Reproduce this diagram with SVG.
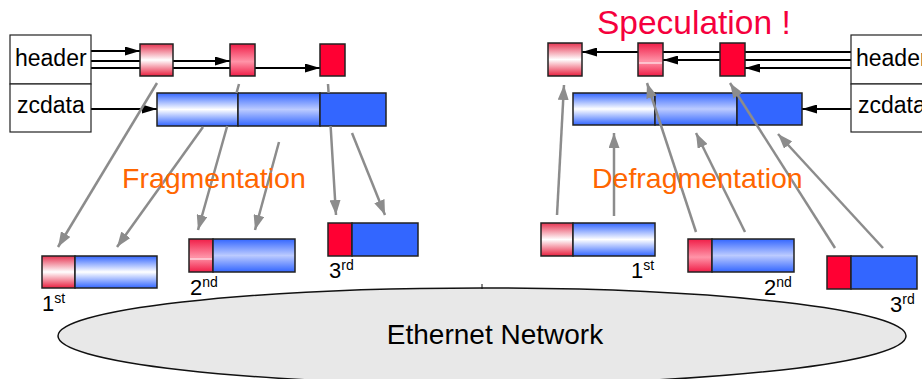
<svg xmlns="http://www.w3.org/2000/svg" width="922" height="379" viewBox="0 0 922 379">
<style>
.lbl{font-family:"Liberation Sans",Arial,sans-serif;fill:#000}
.box{stroke:#222;stroke-width:1.5}
.blk{stroke:#000;stroke-width:2;fill:none}
.gry{stroke:#8C8C8C;stroke-width:2.5;fill:none;marker-end:url(#ga)}
.title{font-family:"Liberation Sans",Arial,sans-serif;fill:#FF6600;font-size:28.5px}
.frm{fill:#fff;stroke:#222;stroke-width:1.2}
</style>
<defs>
<linearGradient id="pk1" x1="0" y1="0" x2="0" y2="1"><stop offset="0" stop-color="#E63552"/><stop offset="0.5" stop-color="#FFFFFF"/><stop offset="1" stop-color="#E8203F"/></linearGradient>
<linearGradient id="pk2" x1="0" y1="0" x2="0" y2="1"><stop offset="0" stop-color="#F01E48"/><stop offset="0.55" stop-color="#FF94A8"/><stop offset="1" stop-color="#F01E48"/></linearGradient>
<linearGradient id="bl1" x1="0" y1="0" x2="0" y2="1"><stop offset="0" stop-color="#3366FF"/><stop offset="0.5" stop-color="#FFFFFF"/><stop offset="1" stop-color="#3366FF"/></linearGradient>
<linearGradient id="bl2" x1="0" y1="0" x2="0" y2="1"><stop offset="0" stop-color="#3366FF"/><stop offset="0.5" stop-color="#BCCBFF"/><stop offset="1" stop-color="#3366FF"/></linearGradient>
<marker id="ba" markerUnits="userSpaceOnUse" markerWidth="15" markerHeight="9" refX="15" refY="4.5" orient="auto"><path d="M0,0 L15,4.5 L0,9 z" fill="#000"/></marker>
<marker id="ga" markerUnits="userSpaceOnUse" markerWidth="15" markerHeight="11" refX="15" refY="5.5" orient="auto"><path d="M0,0 L15,5.5 L0,11 z" fill="#8C8C8C"/></marker>
</defs>

<g id="network">
<ellipse cx="482" cy="336" rx="424" ry="48" fill="#E8E8E8" stroke="#111" stroke-width="1.5"/>
<line x1="482" y1="284" x2="482" y2="289" stroke="#111" stroke-width="1"/>
<text class="lbl" x="495" y="344" font-size="28" text-anchor="middle">Ethernet Network</text>
</g>

<g id="connectors">
<path class="blk" d="M91,51 L140,51" marker-end="url(#ba)"/>
<path class="blk" d="M91,61 L230,61" marker-end="url(#ba)"/>
<path class="blk" d="M91,68 L320,68" marker-end="url(#ba)"/>
<path class="blk" d="M91,109 L157,109" marker-end="url(#ba)"/>
<path class="blk" d="M851,52 L582,52" marker-end="url(#ba)"/>
<path class="blk" d="M851,60 L663,60" marker-end="url(#ba)"/>
<path class="blk" d="M851,68 L745,68" marker-end="url(#ba)"/>
<path class="blk" d="M851,109 L802,109" marker-end="url(#ba)"/>
</g>

<g id="src-header">
<rect class="frm" x="10" y="35" width="81" height="49"/>
<text class="lbl" x="15" y="66" font-size="23">header</text>
</g>
<g id="src-zcdata">
<rect class="frm" x="10" y="84" width="81" height="48"/>
<text class="lbl" x="17" y="113" font-size="23">zcdata</text>
</g>
<g id="dst-header">
<rect class="frm" x="851" y="35" width="90" height="49"/>
<text class="lbl" x="856" y="66" font-size="23">header</text>
</g>
<g id="dst-zcdata">
<rect class="frm" x="851" y="84" width="90" height="48"/>
<text class="lbl" x="858" y="113" font-size="23">zcdata</text>
</g>

<g id="src-hdr1"><rect class="box" x="140" y="44" width="33" height="32" fill="url(#pk1)"/></g>
<g id="src-hdr2"><rect class="box" x="230" y="44" width="25" height="32" fill="url(#pk2)"/></g>
<g id="src-hdr3"><rect class="box" x="320" y="44" width="25" height="32" fill="#FF0033"/></g>
<g id="src-data">
<rect class="box" x="157" y="93" width="81" height="33" fill="url(#bl1)"/>
<rect class="box" x="238" y="93" width="82" height="33" fill="url(#bl2)"/>
<rect class="box" x="320" y="93" width="66" height="33" fill="#3366FF"/>
</g>

<g id="dst-hdr1"><rect class="box" x="548" y="43" width="34" height="33" fill="url(#pk1)"/></g>
<g id="dst-hdr2"><rect class="box" x="638" y="43" width="25" height="33" fill="url(#pk2)"/><line x1="639" y1="63" x2="662" y2="63" stroke="#fff" stroke-width="1"/></g>
<g id="dst-hdr3"><rect class="box" x="720" y="43" width="25" height="33" fill="#FF0033"/></g>
<g id="dst-data">
<rect class="box" x="573" y="93" width="82" height="32" fill="url(#bl1)"/>
<rect class="box" x="655" y="93" width="82" height="32" fill="url(#bl2)"/>
<rect class="box" x="737" y="93" width="65" height="32" fill="#3366FF"/>
</g>

<g id="frag1">
<rect class="box" x="42" y="256" width="33" height="32" fill="url(#pk1)"/>
<rect class="box" x="75" y="256" width="82" height="32" fill="url(#bl1)"/>
<text class="lbl" x="42" y="311" font-size="22">1<tspan font-size="14" dy="-8">st</tspan></text>
</g>
<g id="frag2">
<rect class="box" x="189" y="239" width="24" height="33" fill="url(#pk2)"/>
<line x1="190" y1="259" x2="212" y2="259" stroke="#fff" stroke-width="1"/>
<rect class="box" x="213" y="239" width="82" height="33" fill="url(#bl2)"/>
<text class="lbl" x="190" y="295" font-size="22">2<tspan font-size="14" dy="-8">nd</tspan></text>
</g>
<g id="frag3">
<rect class="box" x="328" y="223" width="24" height="33" fill="#FF0033"/>
<rect class="box" x="352" y="223" width="66" height="33" fill="#3366FF"/>
<text class="lbl" x="329" y="278" font-size="22">3<tspan font-size="14" dy="-8">rd</tspan></text>
</g>
<g id="rfrag1">
<rect class="box" x="541" y="223" width="32" height="33" fill="url(#pk1)"/>
<rect class="box" x="573" y="223" width="82" height="33" fill="url(#bl1)"/>
<text class="lbl" x="631" y="278" font-size="22">1<tspan font-size="14" dy="-8">st</tspan></text>
</g>
<g id="rfrag2">
<rect class="box" x="688" y="239" width="24" height="33" fill="url(#pk2)"/>
<rect class="box" x="712" y="239" width="82" height="33" fill="url(#bl2)"/>
<text class="lbl" x="764" y="295" font-size="22">2<tspan font-size="14" dy="-8">nd</tspan></text>
</g>
<g id="rfrag3">
<rect class="box" x="827" y="256" width="24" height="33" fill="#FF0033"/>
<rect class="box" x="851" y="256" width="66" height="33" fill="#3366FF"/>
<text class="lbl" x="890" y="312" font-size="22">3<tspan font-size="14" dy="-8">rd</tspan></text>
</g>

<g id="flow-connectors">
<path class="gry" d="M157,83 L58,247"/>
<path class="gry" d="M203,127 L117,247"/>
<path class="gry" d="M239,84 L236.5,93 M227.2,126 L198,230"/>
<path class="gry" d="M279,142 L255,230"/>
<path class="gry" d="M328,84 L328.6,93 M330.6,126 L336,215"/>
<path class="gry" d="M352,133 L385,215"/>
<path class="gry" d="M557,215 L564,85"/>
<path class="gry" d="M614,216 L614,133"/>
<path class="gry" d="M696,232 L647,83"/>
<path class="gry" d="M745,232 L696,133"/>
<path class="gry" d="M835,248 L730,83"/>
<path class="gry" d="M883,248 L778,134"/>
</g>

<g id="titles">
<text class="title" x="122" y="188">Fragmentation</text>
<text class="title" x="592" y="188">Defragmentation</text>
<text x="597" y="34" font-family="Liberation Sans,Arial,sans-serif" font-size="33.5" fill="#F5003D">Speculation !</text>
</g>
</svg>
